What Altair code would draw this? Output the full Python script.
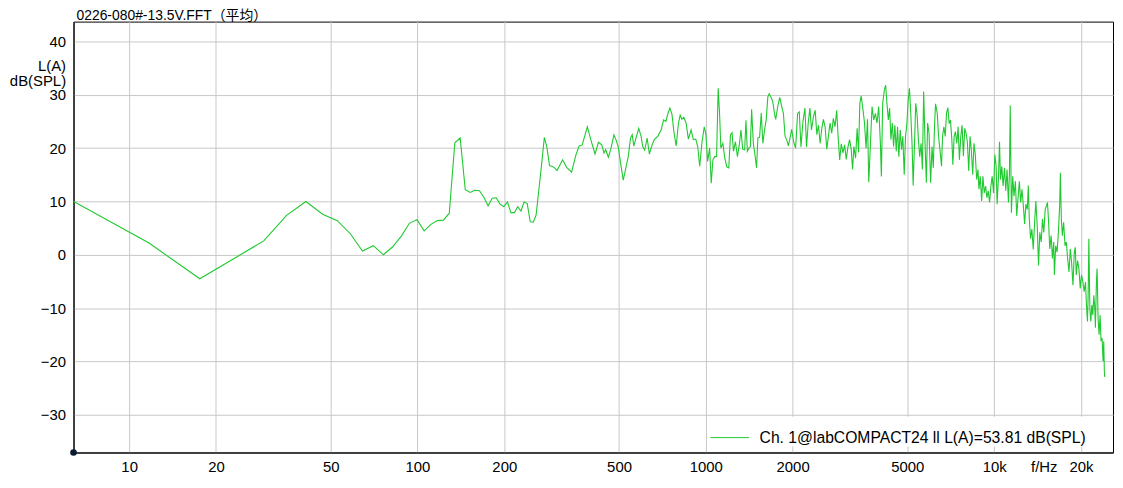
import altair as alt
import pandas as pd

title_text = "0226-080#-13.5V.FFT（平均）"
legend_label = "Ch. 1@labCOMPACT24 ll L(A)=53.81 dB(SPL)"
y_title = ["L(A)", "dB(SPL)"]

# FFT bins at low frequency (Hz) and level dB(SPL)
low_freq = [5.86, 11.72, 17.58, 23.44, 29.30, 35.16, 41.02, 46.88, 52.73, 58.59,
            64.45, 70.31, 76.17, 82.03, 87.89, 93.75, 99.61, 105.47, 111.33, 117.19,
            123.05, 128.91, 134.77, 140.63, 146.48, 152.34, 158.20, 164.06, 169.92, 175.78,
            181.64, 187.50, 193.36, 199.22, 205.08, 210.94, 216.80, 222.66, 228.52, 234.38,
            240.23, 246.09, 251.95, 257.81, 263.67, 269.53, 275.39, 281.25, 287.11, 292.97,
            298.83, 304.69]
low_db = [11.2, 2.2, -4.5, -0.5, 2.6, 7.4, 10.0, 7.6, 6.4, 3.9,
          0.7, 1.7, 0.0, 1.5, 3.5, 5.9, 6.6, 4.5, 5.7, 6.4,
          6.5, 7.8, 21.0, 21.9, 12.2, 11.7, 12.1, 12.0, 10.8, 9.2,
          10.6, 10.7, 9.5, 9.0, 9.9, 7.9, 7.9, 9.0, 8.2, 9.9,
          9.6, 6.2, 6.1, 7.4, 12.2, 17.0, 22.0, 20.1, 16.7, 16.6,
          16.3, 15.8]

mid_freq = [318.8, 329.1, 342.4, 354.3, 363.7, 372.7, 388.2, 399.1, 412.9, 424.3,
            435.5, 443.5, 449.5, 459.2, 467.7, 480.1, 489.3, 497.1, 506.3, 517.2,
            526.8, 538.2, 548.1, 555.5, 562.6, 573.4, 585.3, 596.6, 604.2, 613.8,
            625.7, 637.2, 651.0, 663.0, 682.7, 700.7, 713.6, 727.3, 738.9, 750.8,
            762.8, 774.9, 789.2, 803.8, 814.7, 825.7, 838.9, 854.3, 870.1, 888.9,
            905.2, 922.6, 937.4, 952.3, 969.9, 987.7]
mid_db = [17.8, 16.4, 15.5, 18.7, 20.4, 20.6, 24.0, 21.6, 18.9, 21.1,
          20.6, 19.1, 19.7, 18.3, 19.7, 22.5, 21.4, 20.2, 17.2, 14.0,
          16.0, 18.4, 21.9, 22.5, 20.4, 22.0, 23.7, 22.2, 20.3, 19.6,
          21.9, 18.9, 20.6, 21.6, 22.3, 23.5, 25.3, 25.0, 26.5, 27.5,
          26.4, 23.1, 20.4, 24.7, 26.2, 25.4, 25.8, 24.7, 21.7, 23.4,
          21.6, 21.7, 20.3, 16.6, 21.1, 24.0]

upper_freq = [1001.1, 1014.7, 1030.9, 1044.1, 1058.2, 1072.6, 1089.8, 1103.7, 1116.0, 1127.6,
              1145.6, 1163.9, 1182.5, 1201.4, 1217.7, 1233.2, 1247.0, 1266.9, 1287.2, 1307.7,
              1324.4, 1342.4, 1363.9, 1378.0, 1393.4, 1411.2, 1426.9, 1441.7, 1461.3, 1479.9,
              1500.0, 1515.5, 1536.1, 1556.9, 1576.8, 1598.2, 1619.9, 1640.6, 1658.9, 1685.4,
              1706.9, 1730.1, 1748.0, 1776.0, 1804.4, 1833.2, 1858.0, 1883.2, 1907.3, 1933.1,
              1959.4, 1984.4, 2016.1, 2048.3, 2081.0, 2109.3, 2137.9, 2172.0, 2206.8, 2235.0,
              2265.3, 2296.1, 2325.4, 2362.5, 2394.6, 2427.1, 2458.1, 2491.4, 2525.2, 2557.5,
              2592.2, 2627.3, 2660.9, 2697.0, 2733.5, 2768.5, 2806.0, 2844.0, 2873.5, 2912.5,
              2949.7, 2989.7, 3030.3, 3069.0, 3110.6, 3152.8, 3193.0, 3228.6, 3262.1, 3306.4,
              3348.6, 3385.9, 3421.0, 3456.5, 3503.3, 3550.9, 3596.3, 3636.5, 3674.1, 3723.9,
              3771.5, 3822.6, 3874.5, 3923.9, 3977.1, 4031.1, 4063.2, 4105.3, 4161.0, 4204.1,
              4247.7, 4295.1, 4339.6, 4384.5, 4433.4, 4479.4, 4525.8, 4576.3, 4623.7, 4671.7,
              4723.7, 4772.7, 4822.1, 4876.0, 4926.5, 4977.5, 5033.1, 5085.2, 5137.9, 5195.2,
              5236.6, 5290.8, 5345.6, 5405.3, 5461.2, 5517.8, 5579.3, 5637.2, 5695.6]
upper_db = [22.5, 17.5, 20.0, 13.4, 17.8, 18.4, 18.4, 31.2, 26.5, 20.0,
            20.9, 18.1, 16.5, 16.3, 22.5, 22.9, 19.4, 21.2, 18.4, 20.8,
            23.4, 19.8, 19.7, 25.2, 19.4, 20.0, 20.3, 27.3, 20.9, 18.8,
            16.3, 21.9, 22.0, 26.6, 20.9, 23.4, 25.3, 29.6, 30.2, 29.5,
            28.7, 26.5, 25.4, 27.8, 29.5, 27.8, 26.5, 22.2, 21.6, 20.4,
            21.9, 23.5, 21.2, 20.0, 26.5, 26.8, 20.2, 25.0, 27.5, 20.2,
            24.7, 27.5, 23.4, 25.9, 27.1, 22.5, 24.3, 20.9, 23.7, 25.4,
            24.0, 19.8, 22.2, 24.7, 22.8, 25.6, 24.0, 27.1, 22.5, 17.8,
            20.8, 19.1, 20.6, 17.9, 20.2, 21.6, 19.8, 16.0, 20.3, 18.1,
            23.7, 19.2, 28.4, 29.8, 27.5, 24.7, 20.0, 25.4, 13.6, 20.9,
            27.8, 25.3, 26.5, 24.7, 27.8, 20.9, 14.7, 28.4, 30.9, 31.8,
            28.4, 25.3, 27.5, 21.6, 24.7, 20.3, 24.3, 19.4, 24.0, 18.4,
            23.4, 19.7, 22.2, 15.0, 22.2, 24.3, 29.0, 31.2, 26.5, 20.3,
            13.0, 20.3, 28.4, 26.2, 21.6, 18.4, 20.9, 16.0, 30.6]

top_freq = [5759, 5819, 5879, 5945, 6021, 6088, 6151, 6215, 6264, 6349,
            6415, 6486, 6569, 6622, 6695, 6765, 6835, 6911, 6983, 7055,
            7134, 7191, 7265, 7340, 7422, 7499, 7577, 7661, 7741, 7821,
            7908, 7990, 8073, 8163, 8248, 8333, 8426, 8513, 8601, 8698,
            8788, 8857, 8949, 9049, 9143, 9238, 9341, 9437, 9535, 9641,
            9741, 9842, 9952, 10055, 10160, 10240, 10355, 10437, 10520, 10629,
            10739, 10859, 10972, 11085, 11209, 11298, 11370, 11478, 11598, 11718,
            11849, 11971, 12095, 12230, 12357, 12485, 12624, 12755, 12887, 13031,
            13135, 13239, 13376, 13515, 13666, 13807, 13950, 14106, 14252, 14400,
            14560, 14711, 14864, 15030, 15185, 15306, 15428, 15588, 15762, 15925,
            16090, 16180, 16347, 16530, 16701, 16874, 16968, 17103, 17239, 17417,
            17612, 17794, 17979, 18179, 18367, 18558, 18765, 18959, 19110, 19262,
            19462, 19679, 19883, 20089, 20313, 20523, 20736, 20901, 21068, 21185,
            21302, 21472, 21643, 21815, 21989, 22164, 22340, 22447, 22626, 22751,
            22932, 23115, 23299, 23484, 23671, 23860, 23992, 24107, 24183]
top_db = [20.9, 13.5, 24.7, 22.8, 13.5, 20.3, 16.3, 24.6, 28.3, 26.5,
          22.2, 19.7, 16.6, 22.2, 24.0, 22.2, 26.5, 27.6, 24.6, 25.3,
          21.5, 16.9, 22.2, 23.1, 20.9, 24.0, 17.8, 22.2, 24.3, 18.5,
          23.7, 22.8, 21.2, 15.7, 22.2, 19.7, 15.0, 20.9, 18.8, 14.1,
          16.0, 12.3, 14.7, 10.1, 14.7, 11.6, 12.9, 10.7, 12.0, 9.8,
          12.9, 14.7, 11.6, 18.8, 16.6, 9.5, 14.7, 21.2, 14.1, 16.6,
          12.9, 16.3, 12.0, 16.0, 9.8, 15.4, 28.0, 7.9, 14.7, 11.0,
          13.8, 7.3, 10.4, 13.8, 9.8, 12.3, 9.2, 5.8, 9.5, 8.5,
          13.0, 6.7, 3.0, 4.8, 1.0, 5.8, 10.1, 5.4, -2.0, 4.2,
          2.4, 6.7, 4.2, 8.5, 9.2, 9.8, 6.7, 1.1, 3.6, -0.7,
          2.4, -3.8, 1.7, 0.5, 4.2, 9.2, 15.4, 6.7, 3.6, 6.1,
          1.7, 2.4, -0.7, -3.2, 1.1, -1.4, -5.7, 0.4, 1.4, -3.8,
          -1.1, -2.6, -6.3, -3.8, -5.1, -6.9, -5.1, -9.4, -12.5, -7.6,
          3.0, -10.0, -12.5, -9.4, -11.3, -7.6, -10.0, -13.7, -5.1, -2.6,
          -11.9, -15.0, -11.3, -16.2, -15.6, -19.9, -16.2, -21.8, -22.9]

x_domain = [6.414, 25836]
y_domain = [-37.07, 43.72]
x_ticks = [10, 20, 50, 100, 200, 500, 1000, 2000, 5000, 10000, 20000]
unit_tick = 14864
y_ticks = [-30, -20, -10, 0, 10, 20, 30, 40]

freq = low_freq + mid_freq + upper_freq + top_freq
db = low_db + mid_db + upper_db + top_db
df = pd.DataFrame({"f": freq, "db": db, "series": [legend_label] * len(freq)})
origin = pd.DataFrame({"f": [x_domain[0]], "db": [y_domain[0]]})

FONT = "Liberation Sans, Arial, Noto Sans CJK SC, sans-serif"
GRID = "#c8c8c8"

x_enc = alt.X(
    "f:Q",
    scale=alt.Scale(type="log", domain=x_domain, nice=False),
    axis=alt.Axis(
        values=x_ticks + [unit_tick],
        labelExpr=("datum.value == 10000 ? '10k' : datum.value == 20000 ? '20k' : "
                   f"datum.value == {unit_tick} ? 'f/Hz' : format(datum.value, 'd')"),
        gridOpacity={"condition": {"test": f"datum.value == {unit_tick}", "value": 0}, "value": 1},
        gridColor=GRID,
        domainColor="black",
        title=None,
        ticks=False,
        tickSize=0,
        labelPadding=7,
        labelOverlap=False,
        labelFlush=False,
        labelBaseline="top",
        labelFont=FONT,
        labelFontSize=15,
        labelColor="black",
    ),
)
y_enc = alt.Y(
    "db:Q",
    scale=alt.Scale(domain=y_domain, nice=False, zero=False),
    axis=alt.Axis(
        values=y_ticks,
        title=y_title,
        titleAngle=0,
        titleAlign="right",
        titleBaseline="top",
        titleX=-8,
        titleY=37,
        titleLineHeight=15,
        titleFontWeight="normal",
        titleFontSize=15,
        titleFont=FONT,
        titleColor="black",
        gridColor=GRID,
        domainColor="black",
        ticks=False,
        tickSize=0,
        labelPadding=8,
        labelFont=FONT,
        labelFontSize=15,
        labelColor="black",
    ),
)

line = alt.Chart(df).mark_line(strokeWidth=1.1, clip=True).encode(
    x=x_enc,
    y=y_enc,
    color=alt.Color(
        "series:N",
        scale=alt.Scale(domain=[legend_label], range=["#1fc92f"]),
        legend=alt.Legend(
            orient="none",
            legendX=640,
            legendY=398,
            title=None,
            symbolType="stroke",
            symbolSize=1521,
            symbolStrokeWidth=1,
            labelFont=FONT,
            labelFontSize=15.8,
            labelColor="black",
            labelLimit=0,
            labelOffset=10,
            fillColor="white",
            padding=1,
        ),
    ),
)

dot = alt.Chart(origin).mark_point(filled=True, size=45, color="#0b1a33", opacity=1).encode(
    x=alt.X("f:Q"), y=alt.Y("db:Q")
)

chart = alt.layer(line, dot).properties(
    width=1047,
    height=434,
    background="white",
    title=alt.TitleParams(
        title_text, anchor="start", dx=3, dy=5, offset=4, fontSize=14, font=FONT,
        fontWeight="normal", color="black", frame="group",
    ),
    autosize=alt.AutoSizeParams(type="none"),
    padding={"left": 66, "top": 12, "right": 2, "bottom": 26},
).configure_view(
    stroke="black", strokeWidth=1
)

chart.save("out.html", embed_options={"renderer": "svg", "actions": False})
